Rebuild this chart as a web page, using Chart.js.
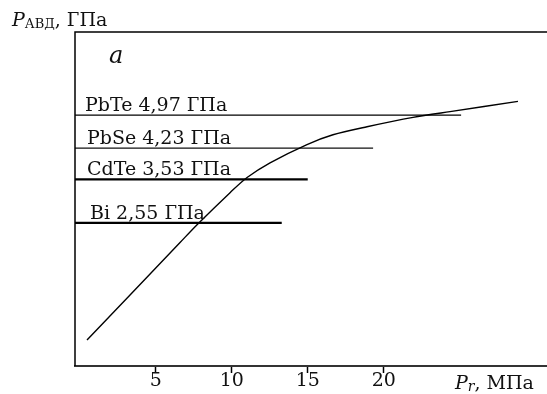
<!DOCTYPE html>
<html><head><meta charset="utf-8">
<script src="https://cdn.jsdelivr.net/npm/chart.js@4/dist/chart.umd.min.js"></script>
<style>html,body{margin:0;padding:0;background:#fff}#w{width:547px;height:394px;position:relative}</style>
</head><body><div id="w"><canvas id="c"></canvas></div>
<script>
// Curve: P_АВД (GPa) vs P_r (MPa)
const curveX = [0.48, 3.31, 6.60, 7.72, 9.89, 11.01, 12.52, 14.95, 16.66, 18.90, 21.93, 24.36, 28.83];
const curveY = [-0.08, 0.93, 2.11, 2.51, 3.23, 3.57, 3.90, 4.31, 4.53, 4.71, 4.92, 5.05, 5.28];
// Transition pressures (horizontal lines)
const materials = ['PbTe', 'PbSe', 'CdTe', 'Bi'];
const transitionGPa = [4.97, 4.23, 3.53, 2.55];
const transitionLabels = ['PbTe 4,97 ГПа', 'PbSe 4,23 ГПа', 'CdTe 3,53 ГПа', 'Bi 2,55 ГПа'];
const lineEndX = [25.09, 19.30, 15.0, 13.29];
// Tick labels
const xTicks = [5, 10, 15, 20];
const xTickLabels = ['5', '10', '15', '20'];

// styles (not data)
const lineWidths = [1.3, 1.3, 2.2, 2.2];
const lineColors = ['#000', '#111', '#000', '#000'];
const labelDx = [10, 12, 12, 15];
const X_MIN = -0.31, X_MAX = 30.74, Y_MIN = -0.664, Y_MAX = 6.839;
const SERIF = '"DejaVu Serif", serif';

const datasets = [{
  label: 'curve',
  data: curveX.map((x, i) => ({x, y: curveY[i]})),
  borderColor: '#000', borderWidth: 1.4, pointRadius: 0, showLine: true,
  tension: 0.3, fill: false
}];
materials.forEach((m, i) => {
  datasets.push({
    label: m,
    data: [{x: X_MIN, y: transitionGPa[i]}, {x: lineEndX[i], y: transitionGPa[i]}],
    borderColor: lineColors[i], borderWidth: lineWidths[i], pointRadius: 0, showLine: true, fill: false
  });
});

const annot = {
  id: 'annot',
  afterDraw(chart) {
    const {ctx, chartArea: a, scales: {y}} = chart;
    ctx.save();
    ctx.strokeStyle = '#000'; ctx.lineWidth = 1.5;
    ctx.beginPath();
    ctx.moveTo(a.left, a.bottom); ctx.lineTo(a.left, a.top); ctx.lineTo(chart.width, a.top);
    ctx.stroke();
    ctx.fillStyle = '#111'; ctx.textBaseline = 'alphabetic'; ctx.textAlign = 'left';
    ctx.font = '19px ' + SERIF;
    transitionLabels.forEach((t, i) => {
      ctx.fillText(t, a.left + labelDx[i], y.getPixelForValue(transitionGPa[i]) - 4);
    });
    // panel letter
    ctx.font = 'italic 24px ' + SERIF;
    ctx.fillText('а', 109, 63);
    // y title
    let xx = 12;
    ctx.font = 'italic 19px ' + SERIF; ctx.fillText('P', xx, 26); xx += ctx.measureText('P').width;
    ctx.font = '13px ' + SERIF; ctx.fillText('АВД', xx, 28); xx += ctx.measureText('АВД').width;
    ctx.font = '19px ' + SERIF; ctx.fillText(', ГПа', xx, 26);
    // x title
    xx = 455;
    ctx.font = 'italic 19px ' + SERIF; ctx.fillText('P', xx, 389); xx += ctx.measureText('P').width;
    ctx.font = 'italic 14px ' + SERIF; ctx.fillText('r', xx, 391); xx += ctx.measureText('r').width;
    ctx.font = '19px ' + SERIF; ctx.fillText(', МПа', xx, 389);
    ctx.restore();
  }
};

new Chart(document.getElementById('c'), {
  type: 'scatter',
  data: {datasets},
  options: {
    responsive: true, maintainAspectRatio: false, animation: false,
    layout: {padding: {left: 75, top: 32, right: 0, bottom: 0}},
    plugins: {legend: {display: false}, tooltip: {enabled: false}},
    scales: {
      x: {
        type: 'linear', min: X_MIN, max: X_MAX,
        afterBuildTicks: s => { s.ticks = xTicks.map(v => ({value: v})); },
        afterFit: s => { s.height = 28; },
        ticks: {
          callback: (v) => xTickLabels[xTicks.indexOf(v)],
          color: '#111', font: {family: SERIF, size: 19}, padding: -3,
          maxRotation: 0, autoSkip: false
        },
        grid: {display: true, drawOnChartArea: false, drawTicks: true, tickLength: 7, color: '#000', tickWidth: 1.5},
        border: {display: true, color: '#333', width: 2}
      },
      y: {type: 'linear', min: Y_MIN, max: Y_MAX, display: false}
    }
  },
  plugins: [annot]
});
</script></body></html>
